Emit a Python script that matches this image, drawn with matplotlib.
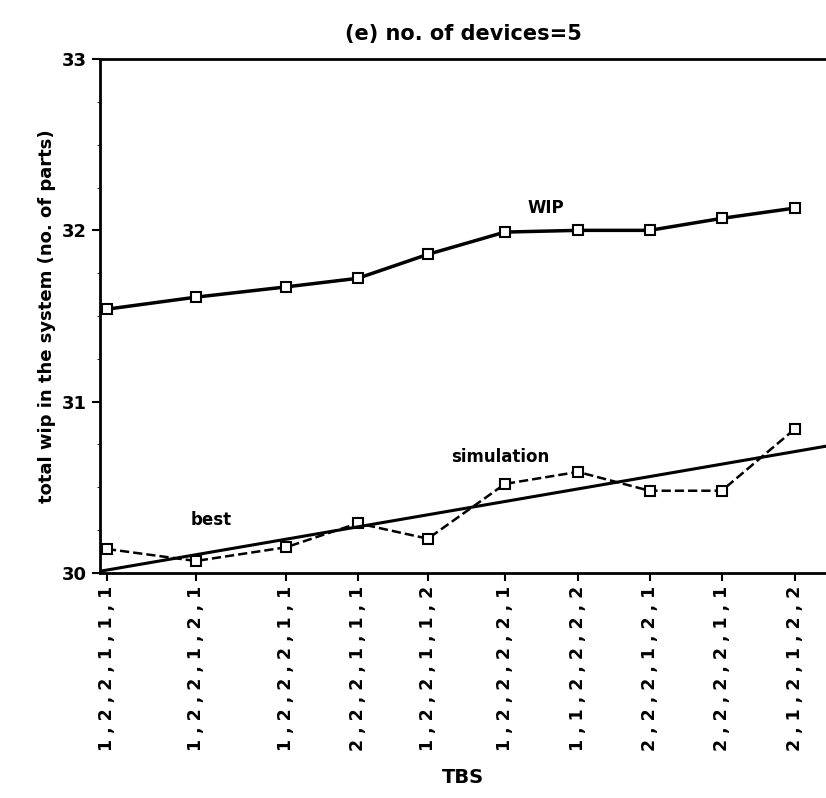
import matplotlib
matplotlib.use("Agg")
import matplotlib.pyplot as plt

labels = ["1 , 2 , 2 , 1 , 1 , 1", "1 , 2 , 2 , 1 , 2 , 1", "1 , 2 , 2 , 2 , 1 , 1",
          "2 , 2 , 2 , 1 , 1 , 1", "1 , 2 , 2 , 1 , 1 , 2", "1 , 2 , 2 , 2 , 2 , 1",
          "1 , 1 , 2 , 2 , 2 , 2", "2 , 2 , 2 , 1 , 2 , 1", "2 , 2 , 2 , 2 , 1 , 1",
          "2 , 1 , 2 , 1 , 2 , 2"]
wip = [31.54, 31.61, 31.67, 31.72, 31.86, 31.99, 32.00, 32.00, 32.07, 32.13]
sim = [30.14, 30.07, 30.15, 30.29, 30.20, 30.52, 30.59, 30.48, 30.48, 30.84]
best_x = [-0.05, 10.4]
best_y = [30.01, 30.74]
xpos = [0.05, 1.33, 2.63, 3.66, 4.67, 5.78, 6.83, 7.86, 8.9, 9.95]

fig = plt.figure(figsize=(8.26, 7.98), dpi=100)
ax = fig.add_axes([0.121, 0.282, 0.879, 0.644])
ax.plot(xpos, wip, '-', color='black', lw=2.5, marker='s', ms=7, mfc='white', mew=1.5)
ax.plot(xpos, sim, '--', color='black', lw=1.8, marker='s', ms=7, mfc='white', mew=1.5)
ax.plot(best_x, best_y, '-', color='black', lw=2.2)
ax.set_xlim(-0.05, 10.4)
ax.set_ylim(30, 33)
ax.set_yticks([30, 31, 32, 33])
ax.set_yticks([30.25, 30.5, 30.75, 31.25, 31.5, 31.75, 32.25, 32.5, 32.75], minor=True)
ax.set_xticks(xpos)
ax.set_xticklabels(labels, rotation=90, fontsize=12.5, fontweight='bold')
for t in ax.get_yticklabels():
    t.set_fontweight('bold'); t.set_fontsize(13)
ax.tick_params(direction='out', width=1.5, length=6)
ax.spines['right'].set_visible(False)
for s in ['left', 'bottom', 'top']:
    ax.spines[s].set_linewidth(2)
ax.text(6.1, 32.1, "WIP", fontsize=12, fontweight='bold')
ax.text(5.0, 30.65, "simulation", fontsize=12, fontweight='bold')
ax.text(1.25, 30.28, "best", fontsize=12, fontweight='bold')
ax.set_ylabel("total wip in the system (no. of parts)", fontsize=13, fontweight='bold')
ax.set_xlabel("TBS", fontsize=14, fontweight='bold', labelpad=12)
ax.set_title("(e) no. of devices=5", fontsize=15, fontweight='bold', pad=14)
fig.savefig("out.png", dpi=100)
